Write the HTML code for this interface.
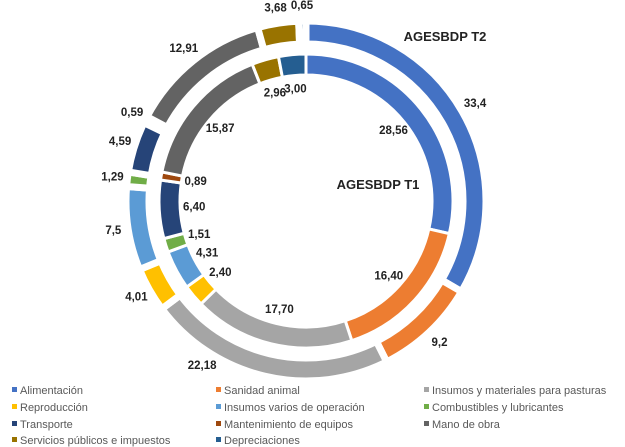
<!DOCTYPE html>
<html><head><meta charset="utf-8"><style>
body{margin:0;background:#fff;width:625px;height:447px;overflow:hidden;font-family:"Liberation Sans",sans-serif}
svg{display:block}
.lbl{font-size:11.5px;font-weight:bold;fill:#222;text-anchor:middle;dominant-baseline:middle}
.leg{font-size:11px;fill:#595959}
</style></head><body>
<svg id="chart" width="625" height="447">
<text x="445" y="41" font-size="13" font-weight="bold" fill="#222" text-anchor="middle">AGESBDP T2</text>
<text x="378" y="189" font-size="13" font-weight="bold" fill="#222" text-anchor="middle">AGESBDP T1</text>
<g id="rings"></g>
<g id="legend"></g>
</svg>
<script>
const categories=["Alimentación","Sanidad animal","Insumos y materiales para pasturas","Reproducción","Insumos varios de operación","Combustibles y lubricantes","Transporte","Mantenimiento de equipos","Mano de obra","Servicios públicos e impuestos","Depreciaciones"];
const valuesT1=[28.56,16.40,17.70,2.40,4.31,1.51,6.40,0.89,15.87,2.96,3.00];
const valuesT2=[33.4,9.2,22.18,4.01,7.5,1.29,4.59,0.59,12.91,3.68,0.65];
const labelsT1=["28,56","16,40","17,70","2,40","4,31","1,51","6,40","0,89","15,87","2,96","3,00"];
const labelsT2=["33,4","9,2","22,18","4,01","7,5","1,29","4,59","0,59","12,91","3,68","0,65"];
const colors=["#4472C4","#ED7D31","#A5A5A5","#FFC000","#5B9BD5","#70AD47","#264478","#9E480E","#636363","#997300","#255E91"];
const NS="http://www.w3.org/2000/svg";
const cx=306,cy=201;
const g=document.getElementById('rings');
function pt(r,a){return [cx+r*Math.sin(a),cy-r*Math.cos(a)];}
function arc(r0,r1,a0,a1){
  const large=(a1-a0)>Math.PI?1:0;
  const p1=pt(r1,a0),p2=pt(r1,a1),p3=pt(r0,a1),p4=pt(r0,a0);
  return `M${p1[0]},${p1[1]}A${r1},${r1} 0 ${large} 1 ${p2[0]},${p2[1]}L${p3[0]},${p3[1]}A${r0},${r0} 0 ${large} 0 ${p4[0]},${p4[1]}Z`;
}
function ring(vals,labs,r0,r1,gap,lr,name,nudge){
  const tot=vals.reduce((a,b)=>a+b,0);
  let a=0;
  vals.forEach((v,i)=>{
    const a0=a, a1=a+v/tot*2*Math.PI; a=a1;
    const p=document.createElementNS(NS,'path');
    p.setAttribute('d',arc(r0,r1,a0,a1));
    p.setAttribute('fill',colors[i]);
    p.setAttribute('stroke','#fff');
    p.setAttribute('stroke-width',gap);
    
    
    g.appendChild(p);
    const m=(a0+a1)/2+(nudge[i]||0), q=pt(lr,m);
    const t=document.createElementNS(NS,'text');
    t.setAttribute('x',q[0]);t.setAttribute('y',q[1]);
    t.setAttribute('class','lbl');
    t.textContent=labs[i];
    
    
    g.appendChild(t);
  });
}
ring(valuesT2,labelsT2,157,180,7,195,'t2',{2:0.33});
ring(valuesT1,labelsT1,126,147,3,112,'t1',{});
const lg=document.getElementById('legend');
const cols=[12,216,424],rows=[390,407,424,440];
categories.forEach((c,i)=>{
  const x=cols[i%3],y=rows[Math.floor(i/3)];
  const r=document.createElementNS(NS,'rect');
  r.setAttribute('x',x);r.setAttribute('y',y-3);r.setAttribute('width',5);r.setAttribute('height',5);
  r.setAttribute('fill',colors[i]);
  
  
  lg.appendChild(r);
  const t=document.createElementNS(NS,'text');
  t.setAttribute('x',x+8);t.setAttribute('y',y+4);t.setAttribute('class','leg');
  t.textContent=c;
  
  
  lg.appendChild(t);
});
</script>
</body></html>
